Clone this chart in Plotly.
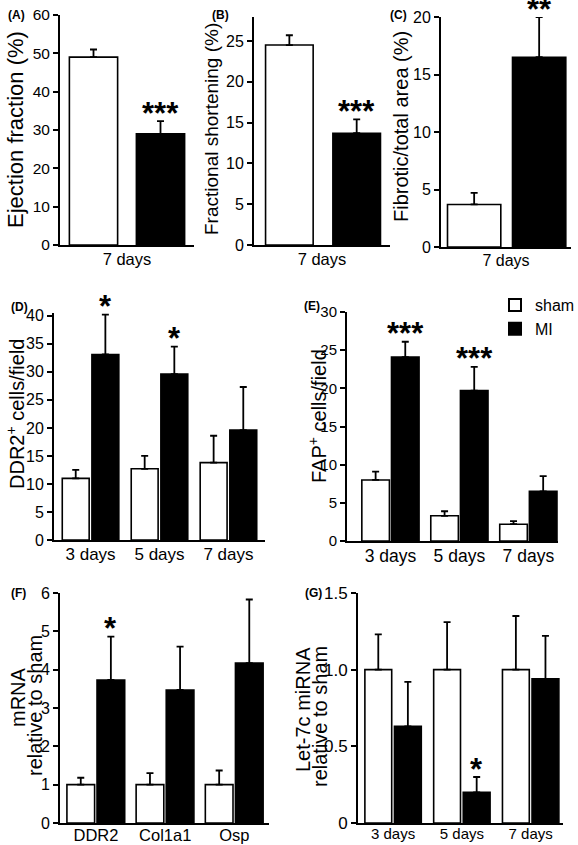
import plotly.graph_objects as go

# ---------------- data ----------------
cat7 = ["7 days"]
ef_sham, ef_sham_err = [49.0], [2.0]
ef_mi, ef_mi_err = [29.0], [3.3]
fs_sham, fs_sham_err = [24.5], [1.2]
fs_mi, fs_mi_err = [13.7], [1.7]
fib_sham, fib_sham_err = [3.7], [1.0]
fib_mi, fib_mi_err = [16.5], [3.5]

days = ["3 days", "5 days", "7 days"]
ddr2_sham, ddr2_sham_err = [11.0, 12.7, 13.8], [1.5, 2.3, 4.8]
ddr2_mi, ddr2_mi_err = [33.1, 29.6, 19.6], [7.1, 4.9, 7.7]
fap_sham, fap_sham_err = [8.0, 3.3, 2.2], [1.1, 0.6, 0.4]
fap_mi, fap_mi_err = [24.1, 19.7, 6.5], [2.0, 3.1, 2.0]

genes = ["DDR2", "Col1a1", "Osp"]
mrna_sham, mrna_sham_err = [1.0, 1.0, 1.0], [0.18, 0.30, 0.37]
mrna_mi, mrna_mi_err = [3.73, 3.47, 4.17], [1.13, 1.13, 1.66]
let7_sham, let7_sham_err = [1.0, 1.0, 1.0], [0.23, 0.31, 0.35]
let7_mi, let7_mi_err = [0.63, 0.20, 0.94], [0.29, 0.10, 0.28]

stars_A = ["***"]
stars_B = ["***"]
stars_C = ["**"]
stars_D = ["*", "*", ""]
stars_E = ["***", "***", ""]
stars_F = ["*", "", ""]
stars_G = ["", "*", ""]

# ---------------- layout helpers ----------------
W, H = 578, 845
FONT = "Liberation Sans, Arial, sans-serif"

fig = go.Figure()

panels = [
    dict(cats=cat7, s=ef_sham, se=ef_sham_err, m=ef_mi, me=ef_mi_err, stars=stars_A,
         titles=[("Ejection fraction (%)", 15, 130, 22)],
         xp=(60, 194), yp=(15, 245), xr=(-0.5, 0.5), yr=(0, 60),
         tv=[0, 10, 20, 30, 40, 50, 60], tt=None, w=0.36, os=-0.43, om=0.07,
         yfs=15.5, xfs=16.5, xso=-2, lab="(A)", lp=(16, 15)),
    dict(cats=cat7, s=fs_sham, se=fs_sham_err, m=fs_mi, me=fs_mi_err, stars=stars_B,
         titles=[("Fractional shortening (%)", 212, 129, 19)],
         xp=(254, 390), yp=(16.5, 245), xr=(-0.5, 0.5), yr=(0, 28),
         tv=[0, 5, 10, 15, 20, 25], tt=None, w=0.35, os=-0.415, om=0.08,
         yfs=16, xfs=16.5, xso=-2, lab="(B)", lp=(220, 15)),
    dict(cats=cat7, s=fib_sham, se=fib_sham_err, m=fib_mi, me=fib_mi_err, stars=stars_C,
         titles=[("Fibrotic/total area (%)", 401, 127, 20)],
         xp=(441, 571), yp=(17, 247), xr=(-0.5, 0.5), yr=(0, 20),
         tv=[0, 5, 10, 15, 20], tt=None, w=0.41, os=-0.45, om=0.05,
         yfs=16, xfs=16, xso=-2, lab="(C)", lp=(398, 15)),
    dict(cats=days, s=ddr2_sham, se=ddr2_sham_err, m=ddr2_mi, me=ddr2_mi_err, stars=stars_D,
         titles=[("DDR2<sup>+</sup> cells/field", 15, 414, 20)],
         xp=(54, 265), yp=(313, 540), xr=(-0.53, 2.53), yr=(0, 40.5),
         tv=[0, 5, 10, 15, 20, 25, 30, 35, 40], tt=None, w=0.39, os=-0.41, om=0.02,
         yfs=16, xfs=17, xso=-2, lab="(D)", lp=(19, 307)),
    dict(cats=days, s=fap_sham, se=fap_sham_err, m=fap_mi, me=fap_mi_err, stars=stars_E,
         titles=[("FAP<sup>+</sup> cells/field", 317, 416, 20)],
         xp=(347, 558), yp=(312, 541), xr=(-0.63, 2.43), yr=(0, 30),
         tv=[0, 5, 10, 15, 20, 25, 30], tt=None, w=0.40, os=-0.415, om=0.015,
         yfs=15, xfs=17.5, xso=-2, lab="(E)", lp=(312, 306)),
    dict(cats=genes, s=mrna_sham, se=mrna_sham_err, m=mrna_mi, me=mrna_mi_err, stars=stars_F,
         titles=[("mRNA", 18, 697, 20), ("relative to sham", 35, 706, 20)],
         xp=(60, 269), yp=(593, 823), xr=(-0.52, 2.50), yr=(0, 6),
         tv=[0, 1, 2, 3, 4, 5, 6], tt=None, w=0.40, os=-0.42, om=0.015,
         yfs=16, xfs=16.5, xso=-4, lab="(F)", lp=(18, 593)),
    dict(cats=days, s=let7_sham, se=let7_sham_err, m=let7_mi, me=let7_mi_err, stars=stars_G,
         titles=[("Let-7c miRNA", 303, 710, 20), ("relative to sham", 320, 717, 20)],
         xp=(358, 563), yp=(593, 823), xr=(-0.51, 2.47), yr=(0, 1.5),
         tv=[0, 0.5, 1.0, 1.5], tt=["0", "0.5", "1.0", "1.5"], w=0.39, os=-0.41, om=0.02,
         yfs=17, xfs=15, xso=-4, lab="(G)", lp=(313, 593)),
]

annotations = []
layout = {}
for i, p in enumerate(panels, start=1):
    sfx = "" if i == 1 else str(i)
    xa, ya = "x" + sfx, "y" + sfx
    show_leg = (i == 5)
    eb = dict(type="data", symmetric=False, color="black", thickness=1.8, width=3.5)
    fig.add_trace(go.Bar(
        x=p["cats"], y=p["s"], name="sham", showlegend=show_leg,
        marker=dict(color="white", line=dict(color="black", width=1.6)),
        error_y=dict(array=p["se"], arrayminus=[0] * len(p["se"]), **eb),
        width=p["w"], offset=p["os"], xaxis=xa, yaxis=ya))
    fig.add_trace(go.Bar(
        x=p["cats"], y=p["m"], name="MI", showlegend=show_leg,
        marker=dict(color="black", line=dict(color="black", width=1.6)),
        error_y=dict(array=p["me"], arrayminus=[0] * len(p["me"]), **eb),
        width=p["w"], offset=p["om"], xaxis=xa, yaxis=ya))

    x0, x1 = p["xp"]
    y0, y1 = p["yp"]
    pxu = (x1 - x0) / (p["xr"][1] - p["xr"][0])
    mi_shift = (p["om"] + p["w"] / 2) * pxu
    layout["xaxis" + sfx] = dict(
        domain=[x0 / W, x1 / W], range=list(p["xr"]), anchor=ya, type="category",
        showline=True, linecolor="black", linewidth=2, ticks="", ticklabelstandoff=p["xso"],
        showgrid=False, zeroline=False,
        tickfont=dict(size=p["xfs"], color="black", family=FONT), fixedrange=True)
    ydict = dict(
        domain=[1 - y1 / H, 1 - y0 / H], range=list(p["yr"]), anchor=xa,
        showline=True, linecolor="black", linewidth=2, ticks="outside", ticklen=5,
        tickwidth=1.5, tickcolor="black", showgrid=False, zeroline=False,
        tickvals=p["tv"], tickfont=dict(size=p["yfs"], color="black", family=FONT))
    if p["tt"]:
        ydict["ticktext"] = p["tt"]
    layout["yaxis" + sfx] = ydict

    for txt, tx, ty, fs in p["titles"]:
        annotations.append(dict(
            x=tx / W, y=1 - ty / H, xref="paper", yref="paper", text=txt, textangle=-90,
            showarrow=False, xanchor="center", yanchor="middle",
            font=dict(size=fs, color="black", family=FONT)))

    for c, v, e, st in zip(p["cats"], p["m"], p["me"], p["stars"]):
        if st:
            annotations.append(dict(
                x=c, y=v + e, xref=xa, yref=ya, text="<b>" + st + "</b>", showarrow=False,
                xshift=mi_shift, yshift=8, yanchor="middle",
                font=dict(size=31, color="black", family=FONT)))
    annotations.append(dict(
        x=p["lp"][0] / W, y=1 - p["lp"][1] / H, xref="paper", yref="paper",
        text="<b>" + p["lab"] + "</b>", showarrow=False, xanchor="center", yanchor="middle",
        font=dict(size=12, color="black", family=FONT)))

fig.update_layout(
    width=W, height=H, margin=dict(l=0, r=0, t=0, b=0, autoexpand=False),
    paper_bgcolor="white", plot_bgcolor="white",
    font=dict(family=FONT, color="black"),
    barmode="overlay",
    showlegend=True,
    legend=dict(x=495 / W, y=1 - 288 / H, xref="container", yref="container",
                xanchor="left", yanchor="top",
                font=dict(size=16, color="black", family=FONT), bgcolor="rgba(0,0,0,0)",
                tracegroupgap=0, itemsizing="constant"),
    annotations=annotations,
    **layout,
)

fig.write_html("out.html", config={"displayModeBar": False},
               post_script="document.body.style.margin='0px';")
